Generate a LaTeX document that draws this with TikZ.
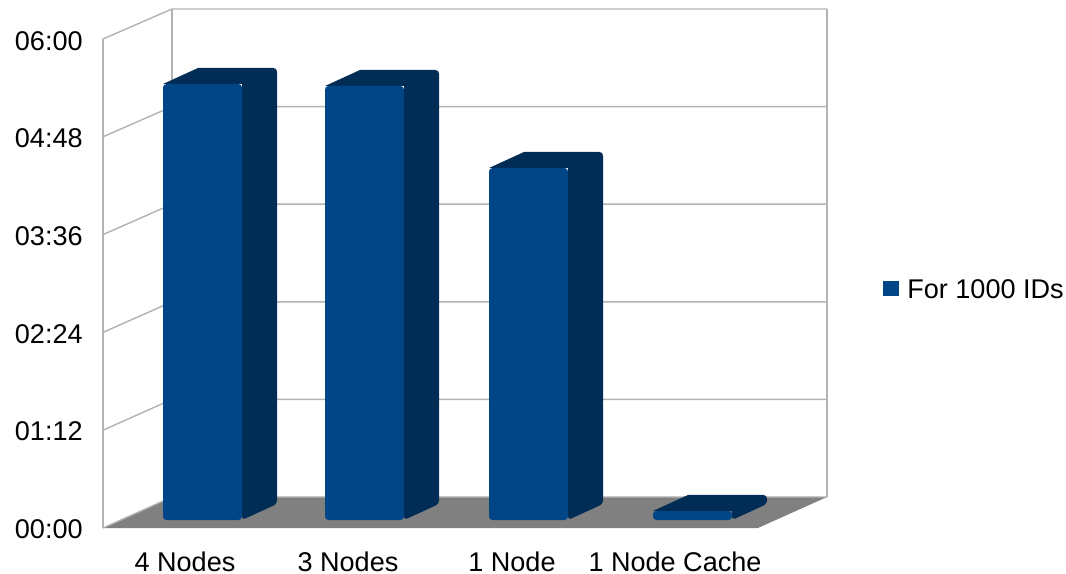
\documentclass[tikz,border=0pt]{standalone}
\usepackage{fontspec}
\setmainfont{Liberation Sans}
\definecolor{barfront}{RGB}{0,69,134}
\definecolor{barside}{RGB}{0,44,86}
\definecolor{gridgray}{RGB}{179,179,179}
\definecolor{floorgray}{RGB}{128,128,128}
\tikzset{
  chartfont/.style={font=\fontsize{15.4}{18}\selectfont},
  gridline/.style={draw=gridgray, line width=0.8pt},
  ticklabel/.style={chartfont, anchor=east, inner sep=0pt},
  catlabel/.style={chartfont, inner sep=0pt},
}
\begin{document}
\begin{tikzpicture}[x=0.02cm, y=-0.02cm]
\useasboundingbox (0,0) rectangle (1066,574);
% floor
\fill [floorgray] (103,528) -- (172,497) -- (827,497) -- (758,528) -- cycle;
% walls and grid
\foreach \k in {0,...,5}
  \draw [gridline] (103,{39+97.8*\k}) -- (172,{9+97.6*\k}) -- (827,{9+97.6*\k});
\draw [gridline] (103,39) -- (103,528);
\draw [gridline] (172,9) -- (172,497);
\draw [gridline] (827,9) -- (827,497);
% tick labels
\foreach \k/\lab in {0/06:00, 1/04:48, 2/03:36, 3/02:24, 4/01:12, 5/00:00}
  \node [ticklabel] (tick\k) at (83,{41+97.6*\k}) {\lab};
% bars
\foreach \x/\h in {163/84, 325/86, 489/168, 653/511} {
  \fill [barside] (\x,\h) -- (\x+35,\h-16) [rounded corners=2] -- (\x+114,\h-16) -- (\x+114,504) -- (\x+79,520) [sharp corners] -- (\x+79,\h) -- cycle;
  \fill [barfront, rounded corners=2] (\x,\h) rectangle (\x+79,520);
}
% categories
\node [catlabel] (cat1) at (185,562) {4 Nodes};
\node [catlabel] (cat2) at (348,562) {3 Nodes};
\node [catlabel] (cat3) at (512,562) {1 Node};
\node [catlabel] (cat4) at (675,562) {1 Node Cache};
% legend
\fill [barfront] (883,281) rectangle (899,296);
\node [chartfont, anchor=west, inner sep=0pt] (key) at (907,289) {For 1000 IDs};
\end{tikzpicture}
\end{document}
